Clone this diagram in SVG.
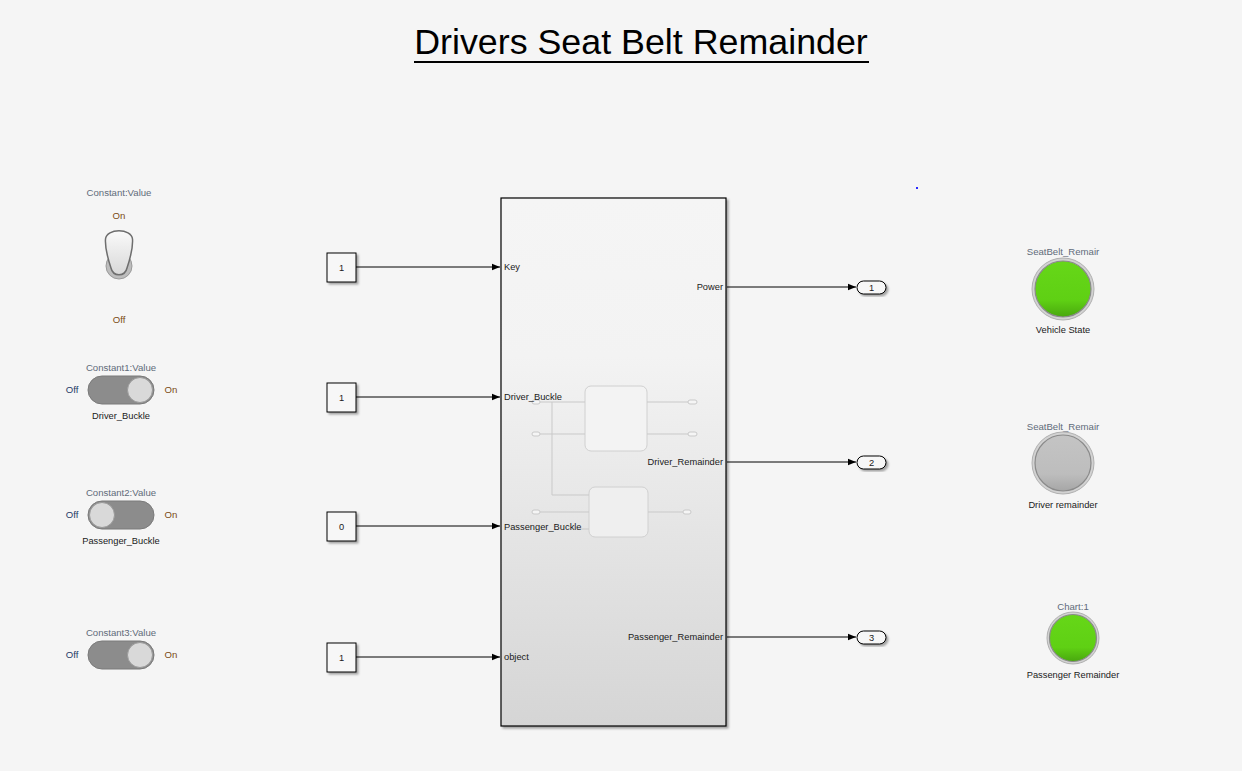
<svg xmlns="http://www.w3.org/2000/svg" width="1242" height="771" viewBox="0 0 1242 771">
<defs>
<style>
text{font-family:"Liberation Sans",Arial,sans-serif;}
.lbl{font-size:9.3px;fill:#1a1a1a;}
.cap{font-size:9.6px;fill:#5f6b7a;}
.on{font-size:9.6px;fill:#7a4a12;}
.off{font-size:9.6px;fill:#1f3a66;}
.k{fill:#f7f7f7;stroke:#000;stroke-width:1;}
.wire{stroke:#000;stroke-width:1;fill:none;}
.inner{stroke:#c9c9c9;stroke-width:1;fill:none;}
.pill{fill:#f5f5f5;stroke:#c9c9c9;stroke-width:1;}
</style>
<linearGradient id="sub" x1="0" y1="0" x2="0" y2="1">
<stop offset="0" stop-color="#f5f5f5"/>
<stop offset="0.3" stop-color="#f3f3f3"/>
<stop offset="1" stop-color="#d5d5d5"/>
</linearGradient>
<linearGradient id="green" x1="0" y1="0" x2="0" y2="1">
<stop offset="0" stop-color="#66d718"/>
<stop offset="0.7" stop-color="#5fd014"/>
<stop offset="1" stop-color="#49a80e"/>
</linearGradient>
<linearGradient id="gray" x1="0" y1="0" x2="0" y2="1">
<stop offset="0" stop-color="#c4c4c4"/>
<stop offset="0.7" stop-color="#bdbdbd"/>
<stop offset="1" stop-color="#a6a6a6"/>
</linearGradient>
<linearGradient id="lever" x1="0" y1="0" x2="0" y2="1">
<stop offset="0" stop-color="#fafafa"/>
<stop offset="1" stop-color="#d8d8d8"/>
</linearGradient>
<filter id="sh" x="-10%" y="-10%" width="130%" height="130%">
<feDropShadow dx="2" dy="2" stdDeviation="1" flood-color="#000" flood-opacity="0.35"/>
</filter>
<marker id="arr" viewBox="0 0 10 10" refX="10" refY="5" markerWidth="8" markerHeight="8" markerUnits="userSpaceOnUse" orient="auto">
<path d="M0,1 L10,5 L0,9 Z" fill="#000"/>
</marker>
</defs>
<rect width="1242" height="771" fill="#f5f5f5"/>

<g id="title">
<text x="641" y="54" font-size="35.8" text-anchor="middle" fill="#000">Drivers Seat Belt Remainder</text>
<line x1="414" y1="62" x2="869" y2="62" stroke="#000" stroke-width="2"/>
</g>

<g id="toggle_constant">
<text class="cap" x="119" y="196" text-anchor="middle">Constant:Value</text>
<text class="on" x="119" y="219" text-anchor="middle">On</text>
<circle cx="119" cy="266" r="13" fill="#bdbdbd" stroke="#9a9a9a" stroke-width="1"/>
<path d="M111,268 C107,256 105,246 105.5,239 C106.5,228 131.5,228 132.5,239 C133,246 131,256 127,268 C125,277 113,277 111,268 Z" fill="url(#lever)" stroke="#6e6e6e" stroke-width="1.5"/>
<text class="on" x="119" y="323" text-anchor="middle">Off</text>
</g>

<g id="slider_constant1">
<text class="cap" x="121" y="371" text-anchor="middle">Constant1:Value</text>
<text class="off" x="72" y="393" text-anchor="middle">Off</text>
<rect x="88" y="376" width="66" height="28" rx="14" fill="#8c8c8c" stroke="#7a7a7a"/>
<circle cx="140" cy="390" r="12.5" fill="#d9d9d9" stroke="#9a9a9a"/>
<text class="on" x="171" y="393" text-anchor="middle">On</text>
<text class="lbl" x="121" y="419" text-anchor="middle">Driver_Buckle</text>
</g>

<g id="slider_constant2">
<text class="cap" x="121" y="496" text-anchor="middle">Constant2:Value</text>
<text class="off" x="72" y="518" text-anchor="middle">Off</text>
<rect x="88" y="501" width="66" height="28" rx="14" fill="#8c8c8c" stroke="#7a7a7a"/>
<circle cx="102" cy="515" r="12.5" fill="#d9d9d9" stroke="#9a9a9a"/>
<text class="on" x="171" y="518" text-anchor="middle">On</text>
<text class="lbl" x="121" y="544" text-anchor="middle">Passenger_Buckle</text>
</g>

<g id="slider_constant3">
<text class="cap" x="121" y="636" text-anchor="middle">Constant3:Value</text>
<text class="off" x="72" y="658" text-anchor="middle">Off</text>
<rect x="88" y="641" width="66" height="28" rx="14" fill="#8c8c8c" stroke="#7a7a7a"/>
<circle cx="140" cy="655" r="12.5" fill="#d9d9d9" stroke="#9a9a9a"/>
<text class="on" x="171" y="658" text-anchor="middle">On</text>
</g>

<g id="const_key">
<rect class="k" x="327" y="253" width="29" height="29" filter="url(#sh)"/>
<text class="lbl" x="341.5" y="271" text-anchor="middle">1</text>
</g>
<g id="const_driver">
<rect class="k" x="327" y="383" width="29" height="29" filter="url(#sh)"/>
<text class="lbl" x="341.5" y="401" text-anchor="middle">1</text>
</g>
<g id="const_passenger">
<rect class="k" x="327" y="512" width="29" height="29" filter="url(#sh)"/>
<text class="lbl" x="341.5" y="530" text-anchor="middle">0</text>
</g>
<g id="const_object">
<rect class="k" x="327" y="643" width="29" height="29" filter="url(#sh)"/>
<text class="lbl" x="341.5" y="661" text-anchor="middle">1</text>
</g>

<g id="subsystem">
<rect x="501" y="198" width="225" height="528" fill="url(#sub)" stroke="#000" stroke-width="1.2" filter="url(#sh)"/>
<g id="subsystem_preview">
<rect x="585" y="386" width="62" height="65" rx="6" fill="#f3f3f3" stroke="#d0d0d0"/>
<rect x="589" y="487" width="59" height="50" rx="6" fill="#efefef" stroke="#d0d0d0"/>
<path class="inner" d="M540,402 H585 M540,434 H585 M552,402 V495 H589 M540,512 H589 M578,529 H589 M647,402 H688 M647,434 H688 M648,512 H683"/>
<rect class="pill" x="532" y="400" width="8" height="4" rx="2"/>
<rect class="pill" x="532" y="432" width="8" height="4" rx="2"/>
<rect class="pill" x="532" y="510" width="8" height="4" rx="2"/>
<rect class="pill" x="688" y="400" width="9" height="4" rx="2"/>
<rect class="pill" x="688" y="432" width="9" height="4" rx="2"/>
<rect class="pill" x="683" y="510" width="8" height="4" rx="2"/>
</g>
<text class="lbl" x="504" y="270">Key</text>
<text class="lbl" x="504" y="400">Driver_Buckle</text>
<text class="lbl" x="504" y="530">Passenger_Buckle</text>
<text class="lbl" x="504" y="660">object</text>
<text class="lbl" x="723" y="290" text-anchor="end">Power</text>
<text class="lbl" x="723" y="465" text-anchor="end">Driver_Remainder</text>
<text class="lbl" x="723" y="640" text-anchor="end">Passenger_Remainder</text>
</g>

<g id="out1">
<rect x="857" y="281" width="29" height="13" rx="6.5" fill="#f7f7f7" stroke="#000" filter="url(#sh)"/>
<text class="lbl" x="871.5" y="290.5" text-anchor="middle">1</text>
</g>
<g id="out2">
<rect x="857" y="456" width="29" height="13" rx="6.5" fill="#f7f7f7" stroke="#000" filter="url(#sh)"/>
<text class="lbl" x="871.5" y="465.5" text-anchor="middle">2</text>
</g>
<g id="out3">
<rect x="857" y="631" width="29" height="13" rx="6.5" fill="#f7f7f7" stroke="#000" filter="url(#sh)"/>
<text class="lbl" x="871.5" y="640.5" text-anchor="middle">3</text>
</g>

<g id="connectors">
<line class="wire" x1="356" y1="267" x2="500" y2="267" marker-end="url(#arr)"/>
<line class="wire" x1="356" y1="397" x2="500" y2="397" marker-end="url(#arr)"/>
<line class="wire" x1="356" y1="526" x2="500" y2="526" marker-end="url(#arr)"/>
<line class="wire" x1="356" y1="657" x2="500" y2="657" marker-end="url(#arr)"/>
<line class="wire" x1="727" y1="287" x2="856" y2="287" marker-end="url(#arr)"/>
<line class="wire" x1="727" y1="462" x2="856" y2="462" marker-end="url(#arr)"/>
<line class="wire" x1="727" y1="637" x2="856" y2="637" marker-end="url(#arr)"/>
</g>

<g id="lamp_vehicle_state">
<text class="cap" x="1063" y="255" text-anchor="middle">SeatBelt_Remair</text>
<circle cx="1063" cy="289" r="31" fill="#d2d2d2" stroke="#b0b0b0"/>
<circle cx="1063" cy="289" r="28" fill="url(#green)" stroke="#8a8a8a" stroke-width="1.2"/>
<text class="lbl" x="1063" y="333" text-anchor="middle">Vehicle State</text>
</g>
<g id="lamp_driver">
<text class="cap" x="1063" y="430" text-anchor="middle">SeatBelt_Remair</text>
<circle cx="1063" cy="463" r="31" fill="#d2d2d2" stroke="#b0b0b0"/>
<circle cx="1063" cy="463" r="28" fill="url(#gray)" stroke="#8a8a8a" stroke-width="1.2"/>
<text class="lbl" x="1063" y="508" text-anchor="middle">Driver remainder</text>
</g>
<g id="lamp_passenger">
<text class="cap" x="1073" y="610" text-anchor="middle">Chart:1</text>
<circle cx="1073" cy="638" r="26" fill="#d2d2d2" stroke="#b0b0b0"/>
<circle cx="1073" cy="638" r="23.5" fill="url(#green)" stroke="#8a8a8a" stroke-width="1.2"/>
<text class="lbl" x="1073" y="678" text-anchor="middle">Passenger Remainder</text>
</g>
<rect x="916" y="187" width="2" height="2" fill="#2a2aff"/>
</svg>
